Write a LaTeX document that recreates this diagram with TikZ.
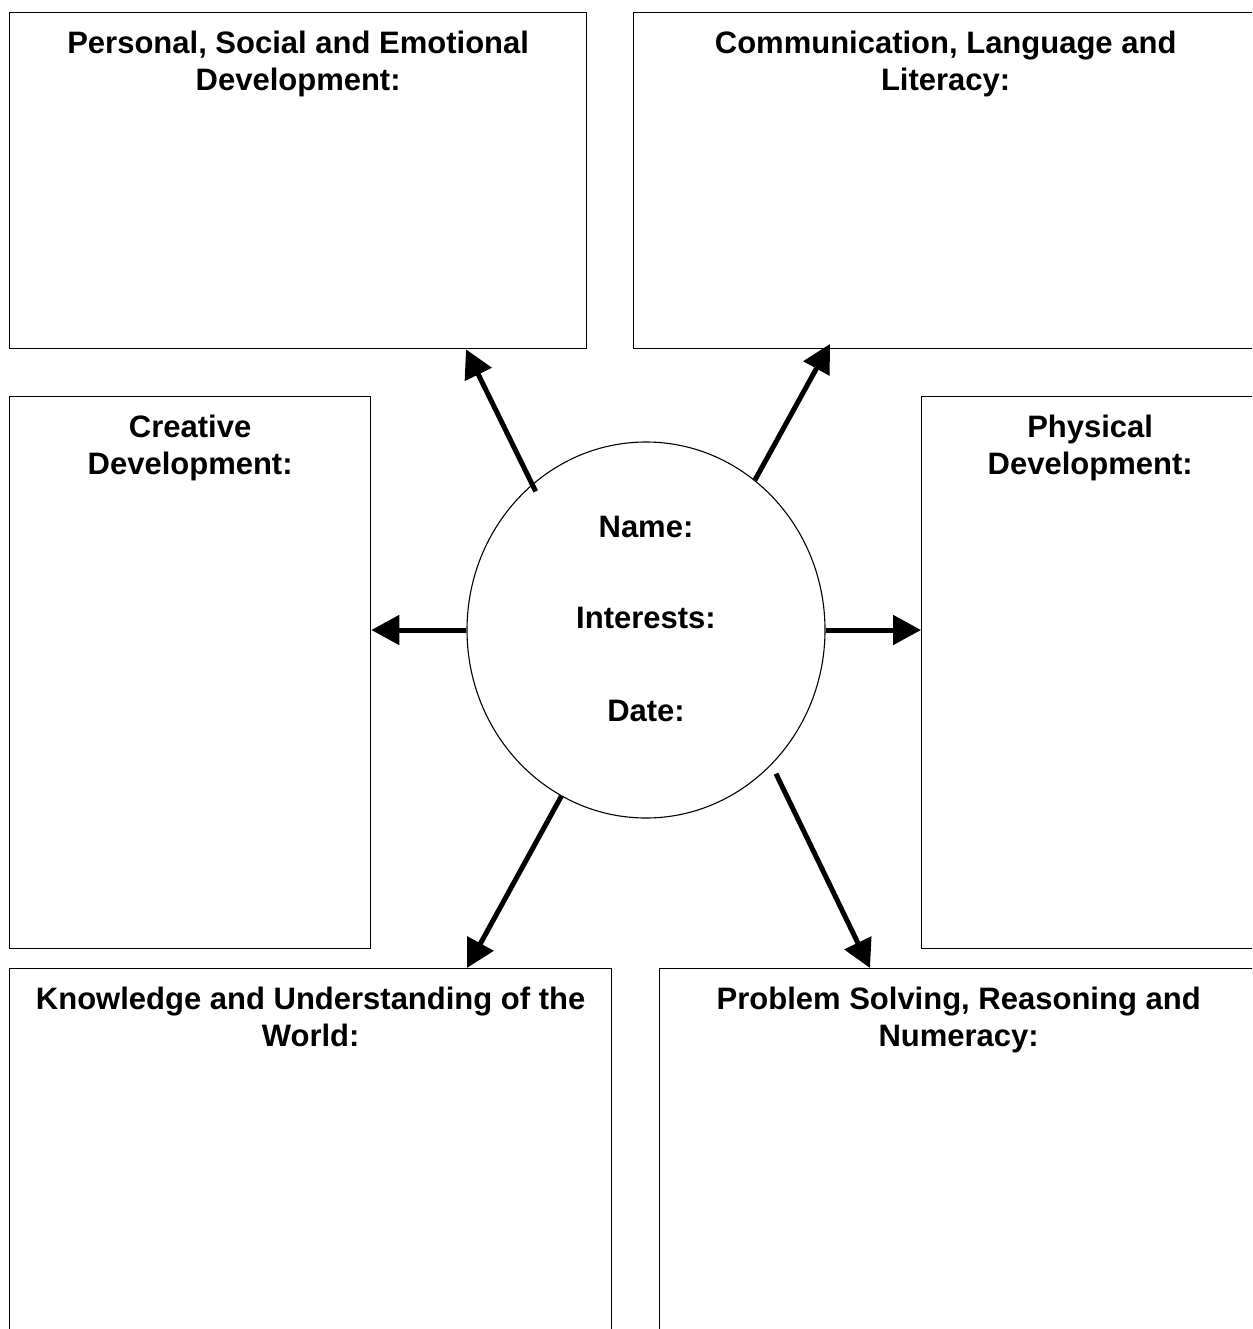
\documentclass[tikz,border=0pt]{standalone}
\usepackage{fontspec}
\setmainfont{Liberation Sans}
\usepackage{tikz}
\usetikzlibrary{shapes.geometric, arrows.meta, positioning}
\tikzstyle{area} = [rectangle, draw, line width=1.3pt, anchor=north west, inner sep=0pt]
\tikzstyle{heading} = [font=\fontsize{31}{37}\selectfont\bfseries, align=center, inner sep=0pt]
\tikzstyle{hub} = [ellipse, draw, line width=1.1pt, minimum width=358pt, minimum height=376pt, inner sep=0pt]
\tikzstyle{field} = [font=\fontsize{31}{37}\selectfont\bfseries, anchor=base, inner sep=0pt]
\tikzstyle{arrow} = [-{Triangle[length=28pt, width=29pt]}, line width=5pt]

\begin{document}
\begin{tikzpicture}[x=1pt, y=-1pt]
    \path[use as bounding box, clip] (0,0) rectangle (1252,1329);

        % nodes
        \node (pse) [area, minimum width=577, minimum height=336] at (9,12) {};
        \node (cll) [area, minimum width=624, minimum height=336] at (633,12) {};
        \node (crd) [area, minimum width=361, minimum height=552] at (9,396) {};
        \node (phd) [area, minimum width=337, minimum height=552] at (921,396) {};
        \node (kuw) [area, minimum width=602, minimum height=400] at (9,968) {};
        \node (psrn) [area, minimum width=598, minimum height=400] at (659,968) {};
        \node (hub) [hub] at (646,630) {};

        \node (pse_title) [heading, below=19pt of pse.north] {Personal, Social and Emotional\\Development:};
        \node (cll_title) [heading, below=19pt of cll.north] {Communication, Language and\\Literacy:};
        \node (crd_title) [heading, below=19pt of crd.north] {Creative\\Development:};
        \node (phd_title) [heading, below=19pt of phd.north] {Physical\\Development:};
        \node (kuw_title) [heading, below=19pt of kuw.north] {Knowledge and Understanding of the\\World:};
        \node (psrn_title) [heading, below=19pt of psrn.north] {Problem Solving, Reasoning and\\Numeracy:};

        \node (name) [field] at (646,537) {Name:};
        \node (interests) [field] at (646,628) {Interests:};
        \node (date) [field] at (646,721) {Date:};

        % edges
        \draw [arrow, shorten <=-8pt] (hub.128) -- (466,0 |- pse.south);
        \draw [arrow, shorten >=-6pt] (hub.54) -- (827,0 |- cll.south);
        \draw [arrow] (hub.west) -- (hub.west -| crd.east);
        \draw [arrow] (hub.east) -- (hub.east -| phd.west);
        \draw [arrow] (hub.243) -- (467,0 |- kuw.north);
        \draw [arrow, shorten <=10pt] (hub.313) -- (870,0 |- psrn.north);

    \end{tikzpicture}
\end{document}
